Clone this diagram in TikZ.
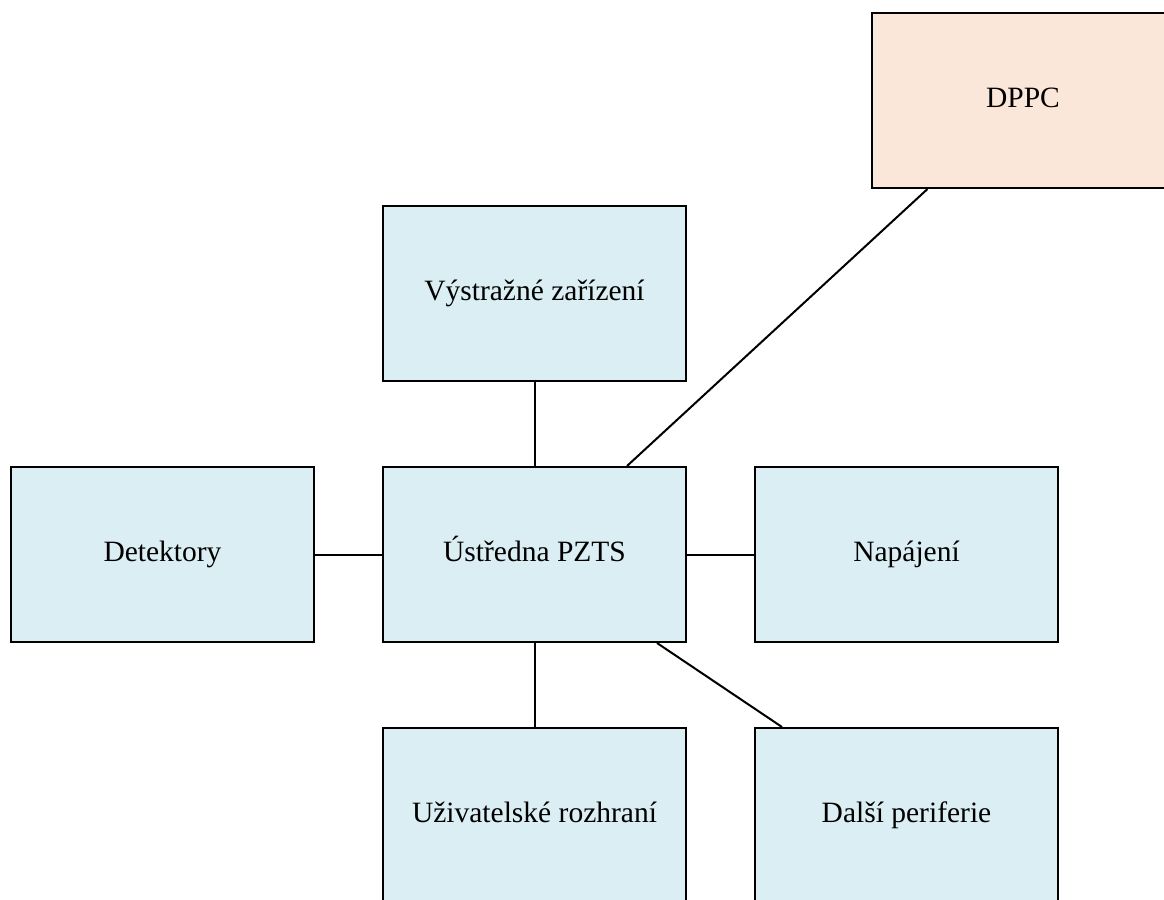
\documentclass[tikz,border=0pt]{standalone}
\usepackage{fontspec}
\setmainfont{Liberation Serif}
\usepackage{xcolor}
\usetikzlibrary{positioning}
\definecolor{boxblue}{HTML}{DAEEF3}
\definecolor{boxpeach}{HTML}{FBE7DA}
\tikzset{
  unit/.style={rectangle, draw, line width=1pt, fill=boxblue,
               minimum width=151.5pt, minimum height=87.5pt,
               text height=0.95em, text depth=0.24em,
               font=\fontsize{14.75pt}{18pt}\selectfont},
  link/.style={line width=1pt},
}
\begin{document}
\begin{tikzpicture}[x=0.5pt, y=-0.5pt, node distance=42pt and 33.5pt]
  \useasboundingbox (0,0) rectangle (1164,900);
  \clip (0,0) rectangle (1164,900);

  % central unit and its neighbours
  \node[unit] (ustredna) at (534.5,554.5) {Ústředna PZTS};
  \node[unit, left=of ustredna] (detektory) {Detektory};
  \node[unit, right=of ustredna] (napajeni) {Napájení};
  \node[unit, above=of ustredna] (vystrazne) {Výstražné zařízení};
  \node[unit, below=of ustredna] (uzivatel) {Uživatelské rozhraní};
  \node[unit, right=of uzivatel] (dalsi) {Další periferie};

  % remote centre
  \node[unit, fill=boxpeach] (dppc) at (1023,100.5) {DPPC};

  % links
  \draw[link] (detektory) -- (ustredna);
  \draw[link] (ustredna) -- (napajeni);
  \draw[link] (vystrazne) -- (ustredna);
  \draw[link] (ustredna) -- (uzivatel);
  \draw[link] ([xshift=137.5pt]ustredna.south west) -- ([xshift=14pt]dalsi.north west);
  \draw[link] ([xshift=28.5pt]dppc.south west) -- ([xshift=122.5pt]ustredna.north west);
\end{tikzpicture}
\end{document}
